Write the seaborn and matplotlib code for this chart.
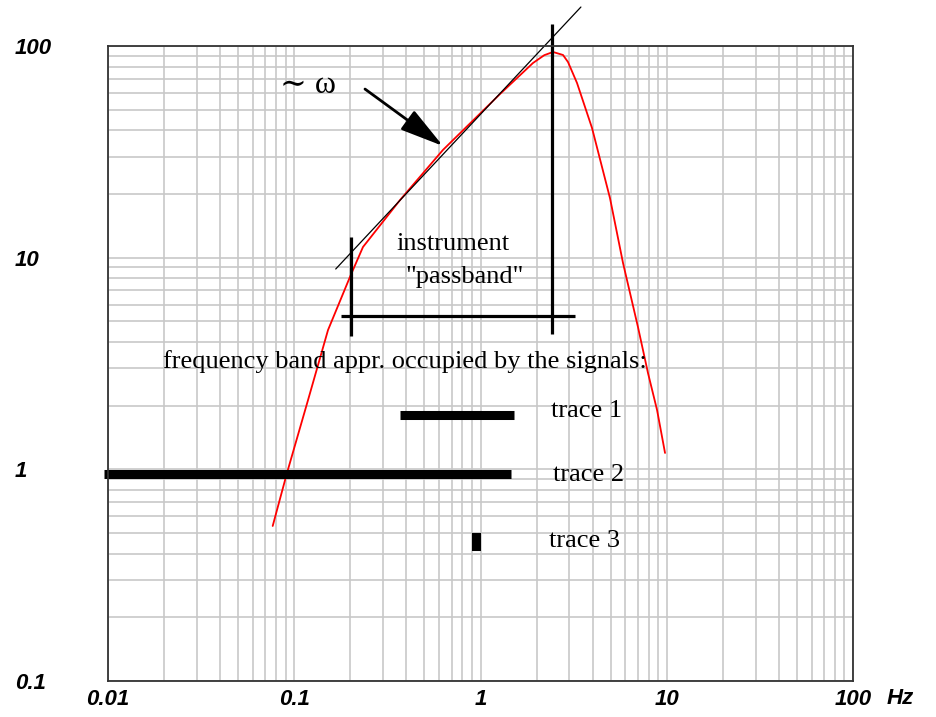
import numpy as np
import pandas as pd
import matplotlib
matplotlib.use("Agg")
import matplotlib.pyplot as plt
import seaborn as sns

# Instrument amplitude response (frequency in Hz, relative amplitude)
freq = [0.0766, 0.0911, 0.1186, 0.1518, 0.199, 0.2339, 0.370, 0.629,
        1.273, 1.913, 2.20, 2.451, 2.773, 2.950, 3.297, 3.969, 4.958, 5.823,
        7.007, 7.93, 8.87, 9.79]
amp = [0.540, 0.951, 2.126, 4.55, 8.10, 11.23, 18.73, 32.3,
       59.3, 83.1, 90.5, 93.7, 90.7, 84.0, 66.9, 41.0, 19.1, 9.44,
       4.70, 2.85, 1.907, 1.195]

# Frequency bands occupied by the signals
trace_names = ["trace 1", "trace 2", "trace 3"]
trace_fmin = [0.37, 0.0095, 0.90]
trace_fmax = [1.51, 1.46, 1.00]
trace_level = [1.81, 0.95, 0.454]
trace_width = [6.5, 6.5, 13.0]
trace_label_x = [2.39, 2.45, 2.33]
trace_label_y = [1.77, 0.88, 0.431]

# Passband markers and the ~omega asymptote
band_lo, band_hi = 0.2017, 2.42
band_level = 5.30
asym_f = [0.167, 3.46]
asym_a = [8.84, 152.8]

x_ticks = [0.01, 0.1, 1, 10, 100]
x_tick_labels = ["0.01", "0.1", "1", "10", "100"]
y_ticks = [0.1, 1, 10, 100]
y_tick_labels = ["0.1", "1", "10", "100"]

sns.set_style("white")
plt.rcParams["font.family"] = ["Liberation Serif", "DejaVu Serif"]
plt.rcParams["text.color"] = "black"
plt.rcParams["xtick.color"] = "black"
plt.rcParams["ytick.color"] = "black"

fig = plt.figure(figsize=(9.36, 7.17), dpi=100)
ax = fig.add_axes([108 / 936, 36 / 717, 745 / 936, 635 / 717])
ax.set_xscale("log")
ax.set_yscale("log")
ax.set_xlim(0.01, 100)
ax.set_ylim(0.1, 100)

ax.grid(True, which="both", color="#c8c8c8", linewidth=1.2)
ax.set_axisbelow(True)
for s in ax.spines.values():
    s.set_color("#333333")
    s.set_linewidth(1.3)

df = pd.DataFrame({"freq": freq, "amp": amp})
sns.lineplot(data=df, x="freq", y="amp", color="red", linewidth=1.3,
             ax=ax, sort=False, estimator=None)
ax.set_xlabel("")
ax.set_ylabel("")

# asymptote
ax.plot(asym_f, asym_a, color="black", linewidth=0.9, clip_on=False)

# passband markers
ax.vlines(band_lo, 4.26, 12.5, color="black", linewidth=2.3, clip_on=False)
ax.vlines(band_hi, 4.35, 127, color="black", linewidth=2.3, clip_on=False)
ax.hlines(band_level, 0.178, 3.22, color="black", linewidth=2.3, clip_on=False)

# signal bands
for name, f0, f1, lvl, w, lx, ly in zip(trace_names, trace_fmin, trace_fmax,
                                       trace_level, trace_width,
                                       trace_label_x, trace_label_y):
    ax.hlines(lvl, f0, f1, color="black", linewidth=w, clip_on=False)
    ax.text(lx, ly, name, fontsize=19, va="baseline", ha="left")

ax.text(0.355, 10.87, "instrument", fontsize=19, va="baseline", ha="left")
ax.text(0.3967, 7.59, '"passband"', fontsize=19, va="baseline", ha="left")
ax.text(0.01967, 3.01, "frequency band appr. occupied by the signals:",
        fontsize=19, va="baseline", ha="left")
ax.text(0.0839, 60.0, "∼ ω", fontsize=23, va="baseline", ha="left",
        family=["Liberation Serif", "DejaVu Serif"])

ax.annotate("", xy=(0.629, 33.7), xytext=(0.2398, 62.6),
            arrowprops=dict(arrowstyle="-|>,head_length=1.35,head_width=0.36",
                            color="black", linewidth=2.0, mutation_scale=20,
                            shrinkA=0, shrinkB=0))

tick_font = dict(family=["Liberation Sans", "DejaVu Sans"], weight="bold",
                 style="italic", size=16)
ax.set_xticks(x_ticks)
ax.set_xticklabels(x_tick_labels, fontdict=tick_font)
ax.set_yticks(y_ticks)
ax.set_yticklabels(y_tick_labels, fontdict=tick_font)
for lab in ax.get_yticklabels():
    lab.set_ha("left")
ax.tick_params(axis="both", which="both", length=0)
ax.tick_params(axis="y", pad=67)
ax.tick_params(axis="x", pad=6)

fig.text(887 / 936, 19 / 717, "Hz", fontdict=tick_font, ha="left", va="center")

fig.savefig("out.png", dpi=100)
